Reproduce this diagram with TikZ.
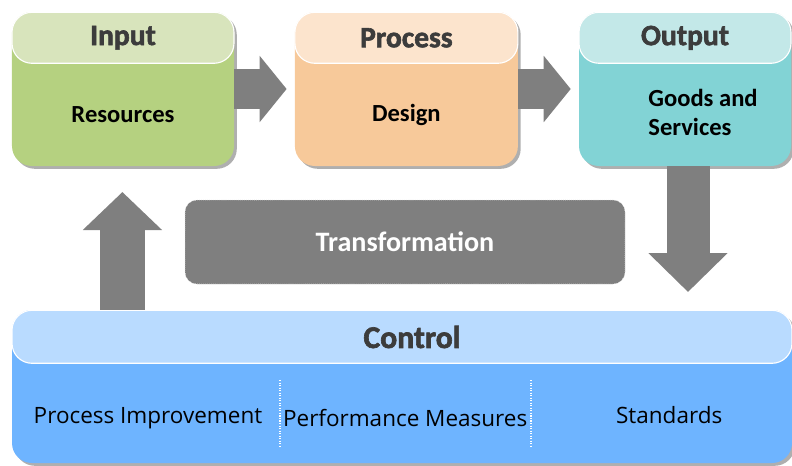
\documentclass[tikz,border=0pt]{standalone}
\usepackage{fontspec}
\setmainfont{Carlito}
\newfontfamily\opensans{Open Sans}
\newfontfamily\headfont{Carlito}[BoldFeatures={FakeBold=2}]
\usepackage{tikz}
\usetikzlibrary{calc}
\usetikzlibrary{arrows.meta}
\usetikzlibrary{shadows}
\usepackage{xcolor}

\definecolor{inhead}{RGB}{216,228,188}
\definecolor{inbody}{RGB}{181,209,128}
\definecolor{prochead}{RGB}{252,228,205}
\definecolor{procbody}{RGB}{247,201,154}
\definecolor{outhead}{RGB}{195,232,232}
\definecolor{outbody}{RGB}{130,211,213}
\definecolor{ctlhead}{RGB}{185,219,255}
\definecolor{ctlbody}{RGB}{110,180,255}
\definecolor{blockgray}{RGB}{127,127,127}
\definecolor{headtxt}{RGB}{60,60,60}

\begin{document}
\begin{tikzpicture}[
  body/.style={rounded corners=.5cm, inner sep=0pt,
    drop shadow={shadow xshift=.07cm, shadow yshift=-.07cm, fill=gray!70, opacity=.9}},
  head/.style={rounded corners=.5cm, draw=white, line width=.8pt, inner sep=0pt,
    text=headtxt, font=\headfont\fontsize{21}{22}\selectfont\bfseries},
  bodytxt/.style={font=\fontsize{17.5}{21}\selectfont\bfseries},
  ctltxt/.style={font=\opensans\fontsize{16}{18}\selectfont},
  blk/.style={blockgray, line width=1cm, -{Triangle[length=.675cm,width=1.625cm]}},
  sep/.style={white, densely dotted, line width=.8pt}
]
\useasboundingbox (0,0) rectangle (19.8,-11.625);

% top row
\node[body, fill=inbody, minimum width=5.55cm, minimum height=3.85cm] (in) at (3.075,-2.225) {};
\node[head, fill=inhead, minimum width=5.55cm, minimum height=1.275cm, anchor=north] (inh) at (in.north) {Input};
\node[bodytxt] at ($(in.south)!.5!(inh.south)$) {Resources};

\node[body, fill=procbody, minimum width=5.575cm, minimum height=3.85cm] (proc) at (10.16,-2.225) {};
\node[head, fill=prochead, minimum width=5.575cm, minimum height=1.275cm, anchor=north] (proch) at (proc.north) {Process};
\node[bodytxt] at ($(proc.south)!.5!(proch.south)$) {Design};

\node[body, fill=outbody, minimum width=5.3cm, minimum height=3.85cm] (out) at (17.125,-2.225) {};
\node[head, fill=outhead, minimum width=5.3cm, minimum height=1.275cm, anchor=north] (outh) at (out.north) {Output};
\node[bodytxt, align=left] at ($(out.south)!.5!(outh.south)+(0.45,0.07)$) {Goods and\\Services};

% transformation
\node[fill=blockgray, draw=white!75!gray, densely dotted, rounded corners=.3cm,
  minimum width=11cm, minimum height=2.1cm, text=white, bodytxt,
  font=\fontsize{20}{22}\selectfont\bfseries] (tr) at (10.125,-6.05) {Transformation};

% control
\node[body, fill=ctlbody, minimum width=19.5cm, minimum height=3.825cm] (ctl) at (10.05,-9.6625) {};
\node[head, fill=ctlhead, minimum width=19.5cm, minimum height=1.325cm, anchor=north] (ctlh) at (ctl.north) {};
\node[text=headtxt, font=\headfont\fontsize{22.5}{24}\selectfont\bfseries] at (10.3,-8.425) {Control};
\draw[sep] (7,-9.5) -- (7,-11.175);
\draw[sep] (13.275,-9.5) -- (13.275,-11.175);
\node[ctltxt] at (3.7,-10.45) {Process Improvement};
\node[ctltxt] at (10.13,-10.45) {Performance Measures};
\node[ctltxt] at (16.73,-10.375) {Standards};

% block arrows
\coordinate (dn) at (17.2,-7.3);
\coordinate (up) at (3.06,-4.8);
\draw[blk, shorten >=.2cm] (in) -- (proc);
\draw[blk, shorten >=.2cm] (proc) -- (out);
\draw[blk, line width=1.075cm, -{Triangle[length=.975cm,width=1.925cm]}] (out.south -| dn) -- (dn);
\draw[blk, line width=1.125cm, -{Triangle[length=.95cm,width=1.925cm]}] (ctl.north -| up) -- (up);

\end{tikzpicture}
\end{document}
